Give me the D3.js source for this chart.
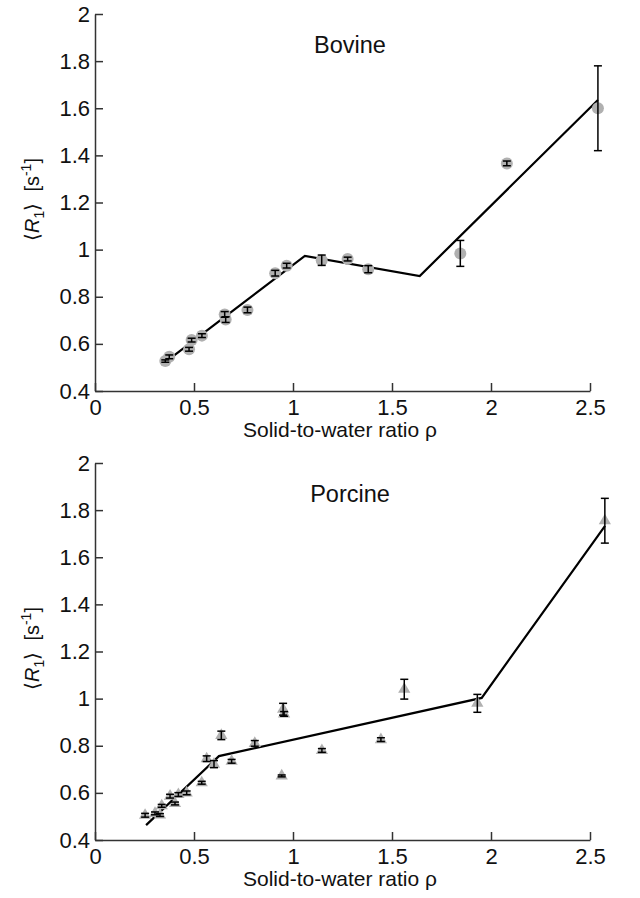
<!DOCTYPE html>
<html>
<head>
<meta charset="utf-8">
<script src="https://cdn.jsdelivr.net/npm/d3@7"></script>
<style>
  body { margin: 0; background: #fff; }
  text { font-family: "Liberation Sans", Arial, sans-serif; fill: #111; }
</style>
</head>
<body>
<div id="area"></div>
<script>
// ticks shared by both panels
var xTicks = [0, 0.5, 1, 1.5, 2, 2.5];
var yTicks = [0.4, 0.6, 0.8, 1, 1.2, 1.4, 1.6, 1.8, 2];

// Bovine: solid-to-water ratio, mean R1 and error
var bovineRho = [0.355, 0.375, 0.475, 0.488, 0.54, 0.655, 0.66, 0.77, 0.91, 0.968, 1.145, 1.276, 1.38, 1.845, 2.08, 2.54];
var bovineR1  = [0.527, 0.545, 0.577, 0.616, 0.635, 0.725, 0.703, 0.744, 0.90, 0.932, 0.955, 0.96, 0.917, 0.984, 1.366, 1.60];
var bovineErr = [0.005, 0.008, 0.008, 0.008, 0.008, 0.012, 0.012, 0.012, 0.012, 0.01, 0.022, 0.008, 0.015, 0.055, 0.01, 0.18];
// piecewise fit
var bovineFitRho = [0.39, 1.06, 1.64, 2.54];
var bovineFitR1  = [0.545, 0.973, 0.888, 1.635];

// Porcine
var porcineRho = [0.253, 0.303, 0.328, 0.337, 0.379, 0.404, 0.421, 0.463, 0.539, 0.564, 0.601, 0.638, 0.69, 0.807, 0.943, 0.95, 0.955, 1.146, 1.444, 1.562, 1.931, 2.575];
var porcineR1  = [0.505, 0.513, 0.506, 0.545, 0.586, 0.555, 0.593, 0.60, 0.643, 0.745, 0.722, 0.844, 0.734, 0.81, 0.672, 0.955, 0.935, 0.78, 0.826, 1.04, 0.98, 1.755];
var porcineErr = [0.008, 0.006, 0.006, 0.006, 0.008, 0.006, 0.008, 0.008, 0.006, 0.012, 0.015, 0.018, 0.008, 0.012, 0.004, 0.025, 0.01, 0.008, 0.008, 0.042, 0.038, 0.095];
var porcineFitRho = [0.258, 0.626, 1.953, 2.576];
var porcineFitR1  = [0.463, 0.756, 1.003, 1.733];

var svg = d3.select("#area").append("svg")
  .attr("width", 640)
  .attr("height", 898);

function drawPanel(top, title, rho, r1, err, fitRho, fitR1, marker) {
  var x = d3.scaleLinear().domain([0, 2.5]).range([95, 590]);
  var y = d3.scaleLinear().domain([0.4, 2]).range([top + 377, top]);
  var g = svg.append("g");

  // axes, ticks pointing inward
  var xAxis = g.append("g")
    .attr("transform", `translate(0,${y(0.4)})`)
    .call(d3.axisBottom(x).tickValues(xTicks).tickFormat(d3.format("~g"))
      .tickSizeInner(-8).tickSizeOuter(0).tickPadding(8));
  var yAxis = g.append("g")
    .attr("transform", `translate(${x(0)},0)`)
    .call(d3.axisLeft(y).tickValues(yTicks).tickFormat(d3.format("~g"))
      .tickSizeInner(-8).tickSizeOuter(0).tickPadding(5));
  [xAxis, yAxis].forEach(function(a){
    a.select(".domain").attr("stroke", "#333").attr("stroke-width", 1.5);
    a.selectAll(".tick line").attr("stroke", "#333").attr("stroke-width", 1.5);
    a.selectAll(".tick text").style("font-size", "22px").attr("fill", "#111")
      .style("font-family", '"Liberation Sans", Arial, sans-serif');
  });

  // x label
  g.append("text")
    .attr("x", 340)
    .attr("y", y(0.4) + 46)
    .attr("text-anchor", "middle")
    .style("font-size", "21px")
    .text("Solid-to-water ratio \u03c1");

  // y label  <R1> [s^-1]
  var lab = g.append("text")
    .attr("transform", `translate(39,${(y(0.4) + y(2)) / 2 - 3}) rotate(-90)`)
    .attr("text-anchor", "middle")
    .style("font-size", "20px");
  lab.append("tspan").text("\u27e8");
  lab.append("tspan").style("font-style", "italic").text("R");
  lab.append("tspan").attr("dy", 5).style("font-size", "14px").text("1");
  lab.append("tspan").attr("dy", -5).text("\u27e9\u00a0\u00a0[s");
  lab.append("tspan").attr("dy", -8).style("font-size", "14px").text("-1");
  lab.append("tspan").attr("dy", 8).text("]");

  // panel title
  g.append("text")
    .attr("x", 350)
    .attr("y", top + 39)
    .attr("text-anchor", "middle")
    .style("font-size", "23.5px")
    .text(title);

  // fit line
  var line = d3.line().x(function(d){ return x(d[0]); }).y(function(d){ return y(d[1]); });
  g.append("path")
    .datum(d3.zip(fitRho, fitR1))
    .attr("d", line)
    .attr("fill", "none")
    .attr("stroke", "#000")
    .attr("stroke-width", 2.2);

  var pts = d3.zip(rho, r1, err);

  // markers
  if (marker == "circle") {
    g.selectAll(".pt").data(pts).enter().append("circle")
      .attr("class", "pt")
      .attr("cx", function(d){ return x(d[0]); })
      .attr("cy", function(d){ return y(d[1]); })
      .attr("r", 6)
      .attr("fill", "#b0b0b0");
  } else {
    g.selectAll(".pt").data(pts).enter().append("path")
      .attr("class", "pt")
      .attr("d", d3.symbol(d3.symbolTriangle).size(65))
      .attr("transform", function(d){ return `translate(${x(d[0])},${y(d[1])})`; })
      .attr("fill", "#b0b0b0");
  }

  // error bars with caps
  var eb = g.selectAll(".eb").data(pts).enter().append("g").attr("class", "eb")
    .attr("stroke", "#000").attr("stroke-width", 1.5);
  eb.append("line")
    .attr("x1", function(d){ return x(d[0]); }).attr("x2", function(d){ return x(d[0]); })
    .attr("y1", function(d){ return y(d[1] - d[2]); }).attr("y2", function(d){ return y(d[1] + d[2]); });
  eb.append("line")
    .attr("x1", function(d){ return x(d[0]) - 4; }).attr("x2", function(d){ return x(d[0]) + 4; })
    .attr("y1", function(d){ return y(d[1] - d[2]); }).attr("y2", function(d){ return y(d[1] - d[2]); });
  eb.append("line")
    .attr("x1", function(d){ return x(d[0]) - 4; }).attr("x2", function(d){ return x(d[0]) + 4; })
    .attr("y1", function(d){ return y(d[1] + d[2]); }).attr("y2", function(d){ return y(d[1] + d[2]); });
}

drawPanel(14, "Bovine", bovineRho, bovineR1, bovineErr, bovineFitRho, bovineFitR1, "circle");
drawPanel(463, "Porcine", porcineRho, porcineR1, porcineErr, porcineFitRho, porcineFitR1, "triangle");
</script>
</body>
</html>
